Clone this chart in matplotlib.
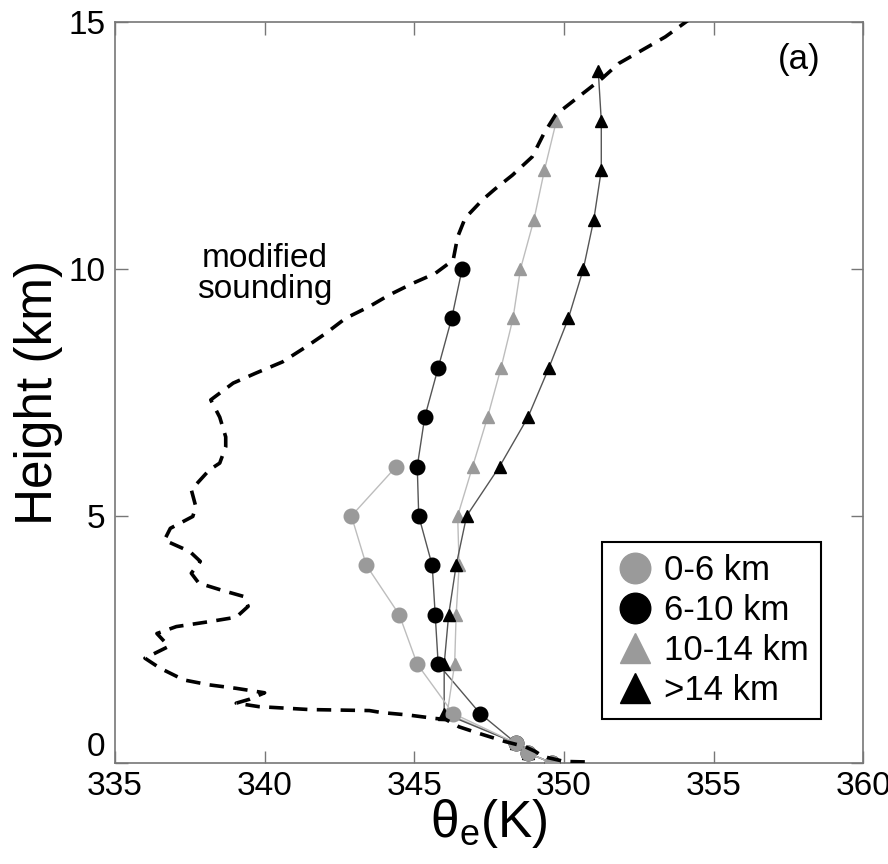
import matplotlib
matplotlib.use("Agg")
import matplotlib.pyplot as plt
from matplotlib.lines import Line2D

plt.rcParams['font.family'] = ['Liberation Sans', 'DejaVu Sans']
plt.rcParams['mathtext.fontset'] = 'custom'
plt.rcParams['mathtext.rm'] = 'Liberation Sans'
plt.rcParams['mathtext.it'] = 'Liberation Sans'

# parcel theta-e profiles, grouped by level of origin
z_0_6 = [0, 0.2, 0.4, 1, 2, 3, 4, 5, 6]
th_0_6 = [349.6, 348.8, 348.4, 346.3, 345.1, 344.5, 343.4, 342.9, 344.4]

z_6_10 = [0, 0.2, 0.4, 1, 2, 3, 4, 5, 6, 7, 8, 9, 10]
th_6_10 = [349.6, 348.8, 348.4, 347.2, 345.8, 345.7, 345.6, 345.15, 345.1,
           345.35, 345.8, 346.25, 346.6]

z_10_14 = [0, 0.2, 0.4, 1, 2, 3, 4, 5, 6, 7, 8, 9, 10, 11, 12, 13]
th_10_14 = [349.6, 348.8, 348.4, 346.1, 346.35, 346.4, 346.5, 346.45, 346.95,
            347.45, 347.9, 348.3, 348.55, 349.0, 349.35, 349.75]

z_14 = [0, 0.2, 0.4, 1, 2, 3, 4, 5, 6, 7, 8, 9, 10, 11, 12, 13, 14]
th_14 = [349.6, 348.8, 348.4, 346.0, 346.0, 346.15, 346.4, 346.75, 347.85,
         348.8, 349.5, 350.15, 350.65, 351.0, 351.25, 351.25, 351.15]

# modified sounding (dashed)
snd_th = [350.7, 350.0, 349.8, 349.3, 349.05, 348.7, 348.05, 347.15, 346.5,
          346.05, 345.7, 344.8, 343.9, 343.5, 341.5, 339.8, 339.05, 339.5,
          340.0, 339.05, 338.15, 337.3, 336.5, 336.0, 336.8, 336.4, 337.05,
          338.15, 339.05, 339.45, 339.3, 338.6, 337.8, 337.55, 337.85, 337.5,
          336.65, 336.85, 337.6, 337.7, 337.55, 338.15, 338.5, 338.7, 338.7,
          338.5, 338.2, 338.95, 339.7, 340.6, 341.4, 342.05, 342.7, 343.5,
          344.15, 344.95, 345.7, 346.3, 346.45, 346.7, 347.28, 347.7, 348.28,
          348.94, 349.33, 349.72, 350.5, 351.28, 351.83, 352.61, 353.39, 354.3]
snd_z = [0.02, 0.03, 0.06, 0.13, 0.23, 0.33, 0.43, 0.6, 0.73,
         0.88, 0.9, 0.97, 1.02, 1.06, 1.08, 1.14, 1.21, 1.29,
         1.42, 1.51, 1.58, 1.68, 1.92, 2.12, 2.36, 2.62, 2.76,
         2.86, 2.95, 3.17, 3.37, 3.49, 3.64, 3.84, 4.08, 4.28,
         4.51, 4.75, 4.99, 5.19, 5.53, 5.93, 6.07, 6.4, 6.6,
         7.0, 7.35, 7.69, 7.89, 8.12, 8.43, 8.7, 9.0, 9.24,
         9.47, 9.71, 9.91, 10.18, 10.65, 11.03, 11.4, 11.62, 11.9,
         12.27, 12.74, 13.12, 13.49, 13.86, 14.16, 14.43, 14.7, 15.1]

labels = ['0-6 km', '6-10 km', '10-14 km', '>14 km']
gray = '#9a9a9a'

fig = plt.figure(figsize=(8.88, 8.64), dpi=100)
ax = fig.add_axes([0.1295, 0.117, 0.8425, 0.8575])

ax.plot(th_6_10, z_6_10, '-', color='#555555', lw=1, marker='o', ms=10.5,
        mfc='black', mec='black', zorder=3)
ax.plot(th_10_14, z_10_14, '-', color='#bdbdbd', lw=1, marker='^', ms=9,
        mfc=gray, mec=gray, zorder=3)
ax.plot(th_14, z_14, '-', color='#555555', lw=1, marker='^', ms=9,
        mfc='black', mec='black', zorder=3)
ax.plot(th_0_6, z_0_6, '-', color='#bdbdbd', lw=1, marker='o', ms=10.5,
        mfc=gray, mec=gray, zorder=4)

ax.plot(snd_th, snd_z, color='black', lw=2.6, dashes=(4.0, 2.6), zorder=5)

ax.set_xlim(335, 360)
ax.set_ylim(0, 15)
ax.set_xticks([335, 340, 345, 350, 355, 360])
ax.set_yticks([0, 5, 10, 15])
ax.tick_params(direction='in', length=9, width=1, color='#777777',
               top=True, right=True, labelsize=24)
ax.tick_params(axis='x', pad=6)
ax.tick_params(axis='y', pad=7)
for s in ax.spines.values():
    s.set_color('#777777')
    s.set_linewidth(1.2)

# the "0" on the height axis sits a little above the corner
ax.get_yticklabels()[0].set_va('bottom')

ax.set_xlabel(r'$\mathregular{\theta_e}$(K)', fontsize=37, labelpad=-4)
ax.set_ylabel('Height (km)', fontsize=37, labelpad=4)

ax.text(340.0, 9.9, 'modified\nsounding', fontsize=24, ha='center',
        va='center', linespacing=1.0)
ax.text(357.85, 14.25, '(a)', fontsize=25, ha='center', va='center')

handles = [
    Line2D([], [], ls='none', marker='o', ms=22, mfc=gray, mec=gray),
    Line2D([], [], ls='none', marker='o', ms=22, mfc='black', mec='black'),
    Line2D([], [], ls='none', marker='^', ms=22, mfc=gray, mec=gray),
    Line2D([], [], ls='none', marker='^', ms=22, mfc='black', mec='black'),
]
leg = ax.legend(handles, labels, loc='lower right',
                bbox_to_anchor=(0.944, 0.059), fontsize=25, frameon=True,
                fancybox=False, edgecolor='black', framealpha=1,
                handletextpad=0.25, handlelength=1.2, labelspacing=0.2,
                borderpad=0.35, borderaxespad=0)
leg.get_frame().set_linewidth(1.5)

fig.savefig('out.png', dpi=100)
